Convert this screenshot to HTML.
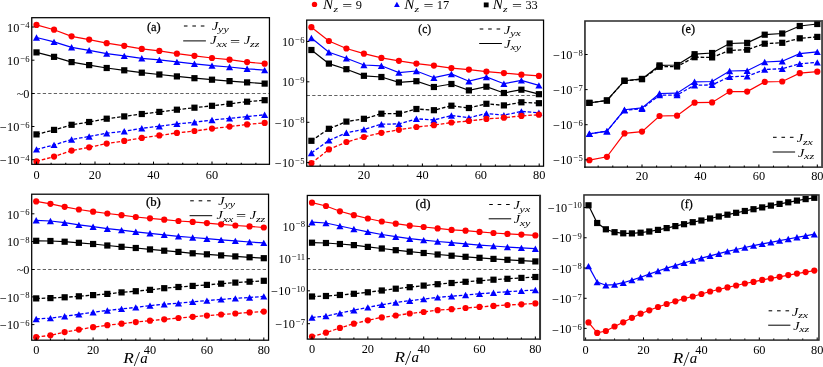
<!DOCTYPE html>
<html><head><meta charset="utf-8"><title>fig</title>
<style>html,body{margin:0;padding:0;background:#fff;width:823px;height:367px;overflow:hidden}svg{display:block}</style>
</head><body>
<svg width="823" height="367" viewBox="0 0 823 367" style="will-change:transform">
<style>
text{font-family:"Liberation Serif",serif;fill:#000}
.tk{font-size:13.0px}
.ex{font-size:9.1px}
.lg{font-size:13.5px;font-style:italic}
.sb{font-size:9.6px;font-style:italic}
.pl{font-size:12px}
.nz{font-size:11.3px;font-style:italic}
.nzs{font-size:8px;font-style:italic}
.nr{font-style:normal}
.ra{font-size:15px;font-style:italic}
</style>
<rect x="0" y="0" width="823" height="367" fill="#fff"/>
<line x1="31.75" y1="93.50" x2="269.45" y2="93.50" stroke="#000" stroke-width="0.62" stroke-dasharray="3.3 2.2"/>
<polyline points="36.50,52.40 54.05,56.85 71.60,62.10 89.15,65.10 106.70,68.00 124.25,70.30 141.80,72.70 159.35,74.50 176.90,76.40 194.45,78.20 212.00,79.70 229.55,81.10 247.10,82.40 264.65,83.60" fill="none" stroke="#000000" stroke-width="1.2"/>
<rect x="33.40" y="49.30" width="6.20" height="6.20" fill="#000000"/>
<rect x="50.95" y="53.75" width="6.20" height="6.20" fill="#000000"/>
<rect x="68.50" y="59.00" width="6.20" height="6.20" fill="#000000"/>
<rect x="86.05" y="62.00" width="6.20" height="6.20" fill="#000000"/>
<rect x="103.60" y="64.90" width="6.20" height="6.20" fill="#000000"/>
<rect x="121.15" y="67.20" width="6.20" height="6.20" fill="#000000"/>
<rect x="138.70" y="69.60" width="6.20" height="6.20" fill="#000000"/>
<rect x="156.25" y="71.40" width="6.20" height="6.20" fill="#000000"/>
<rect x="173.80" y="73.30" width="6.20" height="6.20" fill="#000000"/>
<rect x="191.35" y="75.10" width="6.20" height="6.20" fill="#000000"/>
<rect x="208.90" y="76.60" width="6.20" height="6.20" fill="#000000"/>
<rect x="226.45" y="78.00" width="6.20" height="6.20" fill="#000000"/>
<rect x="244.00" y="79.30" width="6.20" height="6.20" fill="#000000"/>
<rect x="261.55" y="80.50" width="6.20" height="6.20" fill="#000000"/>
<polyline points="36.50,37.50 54.05,41.90 71.60,47.30 89.15,50.30 106.70,53.60 124.25,55.90 141.80,58.30 159.35,59.90 176.90,61.90 194.45,63.80 212.00,65.60 229.55,67.00 247.10,68.80 264.65,70.10" fill="none" stroke="#0000ff" stroke-width="1.2"/>
<path d="M32.95 40.70L40.05 40.70L36.50 34.30Z" fill="#0000ff"/>
<path d="M50.50 45.10L57.60 45.10L54.05 38.70Z" fill="#0000ff"/>
<path d="M68.05 50.50L75.15 50.50L71.60 44.10Z" fill="#0000ff"/>
<path d="M85.60 53.50L92.70 53.50L89.15 47.10Z" fill="#0000ff"/>
<path d="M103.15 56.80L110.25 56.80L106.70 50.40Z" fill="#0000ff"/>
<path d="M120.70 59.10L127.80 59.10L124.25 52.70Z" fill="#0000ff"/>
<path d="M138.25 61.50L145.35 61.50L141.80 55.10Z" fill="#0000ff"/>
<path d="M155.80 63.10L162.90 63.10L159.35 56.70Z" fill="#0000ff"/>
<path d="M173.35 65.10L180.45 65.10L176.90 58.70Z" fill="#0000ff"/>
<path d="M190.90 67.00L198.00 67.00L194.45 60.60Z" fill="#0000ff"/>
<path d="M208.45 68.80L215.55 68.80L212.00 62.40Z" fill="#0000ff"/>
<path d="M226.00 70.20L233.10 70.20L229.55 63.80Z" fill="#0000ff"/>
<path d="M243.55 72.00L250.65 72.00L247.10 65.60Z" fill="#0000ff"/>
<path d="M261.10 73.30L268.20 73.30L264.65 66.90Z" fill="#0000ff"/>
<polyline points="36.50,24.90 54.05,29.70 71.60,36.30 89.15,39.60 106.70,43.20 124.25,45.80 141.80,48.90 159.35,50.90 176.90,53.70 194.45,55.80 212.00,58.00 229.55,59.70 247.10,62.10 264.65,63.70" fill="none" stroke="#ff0000" stroke-width="1.2"/>
<circle cx="36.50" cy="24.90" r="3.10" fill="#ff0000"/>
<circle cx="54.05" cy="29.70" r="3.10" fill="#ff0000"/>
<circle cx="71.60" cy="36.30" r="3.10" fill="#ff0000"/>
<circle cx="89.15" cy="39.60" r="3.10" fill="#ff0000"/>
<circle cx="106.70" cy="43.20" r="3.10" fill="#ff0000"/>
<circle cx="124.25" cy="45.80" r="3.10" fill="#ff0000"/>
<circle cx="141.80" cy="48.90" r="3.10" fill="#ff0000"/>
<circle cx="159.35" cy="50.90" r="3.10" fill="#ff0000"/>
<circle cx="176.90" cy="53.70" r="3.10" fill="#ff0000"/>
<circle cx="194.45" cy="55.80" r="3.10" fill="#ff0000"/>
<circle cx="212.00" cy="58.00" r="3.10" fill="#ff0000"/>
<circle cx="229.55" cy="59.70" r="3.10" fill="#ff0000"/>
<circle cx="247.10" cy="62.10" r="3.10" fill="#ff0000"/>
<circle cx="264.65" cy="63.70" r="3.10" fill="#ff0000"/>
<polyline points="36.50,134.40 54.05,129.90 71.60,124.80 89.15,122.00 106.70,118.70 124.25,116.40 141.80,114.00 159.35,111.90 176.90,109.70 194.45,107.70 212.00,105.80 229.55,103.80 247.10,101.70 264.65,100.20" fill="none" stroke="#000000" stroke-width="1.3" stroke-dasharray="3.6 1.9"/>
<rect x="33.40" y="131.30" width="6.20" height="6.20" fill="#000000"/>
<rect x="50.95" y="126.80" width="6.20" height="6.20" fill="#000000"/>
<rect x="68.50" y="121.70" width="6.20" height="6.20" fill="#000000"/>
<rect x="86.05" y="118.90" width="6.20" height="6.20" fill="#000000"/>
<rect x="103.60" y="115.60" width="6.20" height="6.20" fill="#000000"/>
<rect x="121.15" y="113.30" width="6.20" height="6.20" fill="#000000"/>
<rect x="138.70" y="110.90" width="6.20" height="6.20" fill="#000000"/>
<rect x="156.25" y="108.80" width="6.20" height="6.20" fill="#000000"/>
<rect x="173.80" y="106.60" width="6.20" height="6.20" fill="#000000"/>
<rect x="191.35" y="104.60" width="6.20" height="6.20" fill="#000000"/>
<rect x="208.90" y="102.70" width="6.20" height="6.20" fill="#000000"/>
<rect x="226.45" y="100.70" width="6.20" height="6.20" fill="#000000"/>
<rect x="244.00" y="98.60" width="6.20" height="6.20" fill="#000000"/>
<rect x="261.55" y="97.10" width="6.20" height="6.20" fill="#000000"/>
<polyline points="36.50,149.40 54.05,144.90 71.60,139.50 89.15,136.50 106.70,133.20 124.25,131.30 141.80,128.30 159.35,126.20 176.90,123.80 194.45,122.30 212.00,120.00 229.55,118.40 247.10,116.60 264.65,114.80" fill="none" stroke="#0000ff" stroke-width="1.3" stroke-dasharray="3.6 1.9"/>
<path d="M32.95 152.60L40.05 152.60L36.50 146.20Z" fill="#0000ff"/>
<path d="M50.50 148.10L57.60 148.10L54.05 141.70Z" fill="#0000ff"/>
<path d="M68.05 142.70L75.15 142.70L71.60 136.30Z" fill="#0000ff"/>
<path d="M85.60 139.70L92.70 139.70L89.15 133.30Z" fill="#0000ff"/>
<path d="M103.15 136.40L110.25 136.40L106.70 130.00Z" fill="#0000ff"/>
<path d="M120.70 134.50L127.80 134.50L124.25 128.10Z" fill="#0000ff"/>
<path d="M138.25 131.50L145.35 131.50L141.80 125.10Z" fill="#0000ff"/>
<path d="M155.80 129.40L162.90 129.40L159.35 123.00Z" fill="#0000ff"/>
<path d="M173.35 127.00L180.45 127.00L176.90 120.60Z" fill="#0000ff"/>
<path d="M190.90 125.50L198.00 125.50L194.45 119.10Z" fill="#0000ff"/>
<path d="M208.45 123.20L215.55 123.20L212.00 116.80Z" fill="#0000ff"/>
<path d="M226.00 121.60L233.10 121.60L229.55 115.20Z" fill="#0000ff"/>
<path d="M243.55 119.80L250.65 119.80L247.10 113.40Z" fill="#0000ff"/>
<path d="M261.10 118.00L268.20 118.00L264.65 111.60Z" fill="#0000ff"/>
<polyline points="36.50,161.40 54.05,156.60 71.60,150.60 89.15,147.30 106.70,143.60 124.25,140.90 141.80,137.90 159.35,135.40 176.90,132.90 194.45,131.00 212.00,128.60 229.55,126.60 247.10,124.40 264.65,122.90" fill="none" stroke="#ff0000" stroke-width="1.3" stroke-dasharray="3.6 1.9"/>
<circle cx="36.50" cy="161.40" r="3.10" fill="#ff0000"/>
<circle cx="54.05" cy="156.60" r="3.10" fill="#ff0000"/>
<circle cx="71.60" cy="150.60" r="3.10" fill="#ff0000"/>
<circle cx="89.15" cy="147.30" r="3.10" fill="#ff0000"/>
<circle cx="106.70" cy="143.60" r="3.10" fill="#ff0000"/>
<circle cx="124.25" cy="140.90" r="3.10" fill="#ff0000"/>
<circle cx="141.80" cy="137.90" r="3.10" fill="#ff0000"/>
<circle cx="159.35" cy="135.40" r="3.10" fill="#ff0000"/>
<circle cx="176.90" cy="132.90" r="3.10" fill="#ff0000"/>
<circle cx="194.45" cy="131.00" r="3.10" fill="#ff0000"/>
<circle cx="212.00" cy="128.60" r="3.10" fill="#ff0000"/>
<circle cx="229.55" cy="126.60" r="3.10" fill="#ff0000"/>
<circle cx="247.10" cy="124.40" r="3.10" fill="#ff0000"/>
<circle cx="264.65" cy="122.90" r="3.10" fill="#ff0000"/>
<line x1="36.50" y1="164.30" x2="36.50" y2="161.60" stroke="#000" stroke-width="1.05"/>
<line x1="51.12" y1="164.30" x2="51.12" y2="162.70" stroke="#000" stroke-width="1.05"/>
<line x1="65.75" y1="164.30" x2="65.75" y2="162.70" stroke="#000" stroke-width="1.05"/>
<line x1="80.38" y1="164.30" x2="80.38" y2="162.70" stroke="#000" stroke-width="1.05"/>
<line x1="95.00" y1="164.30" x2="95.00" y2="161.60" stroke="#000" stroke-width="1.05"/>
<line x1="109.62" y1="164.30" x2="109.62" y2="162.70" stroke="#000" stroke-width="1.05"/>
<line x1="124.25" y1="164.30" x2="124.25" y2="162.70" stroke="#000" stroke-width="1.05"/>
<line x1="138.88" y1="164.30" x2="138.88" y2="162.70" stroke="#000" stroke-width="1.05"/>
<line x1="153.50" y1="164.30" x2="153.50" y2="161.60" stroke="#000" stroke-width="1.05"/>
<line x1="168.12" y1="164.30" x2="168.12" y2="162.70" stroke="#000" stroke-width="1.05"/>
<line x1="182.75" y1="164.30" x2="182.75" y2="162.70" stroke="#000" stroke-width="1.05"/>
<line x1="197.38" y1="164.30" x2="197.38" y2="162.70" stroke="#000" stroke-width="1.05"/>
<line x1="212.00" y1="164.30" x2="212.00" y2="161.60" stroke="#000" stroke-width="1.05"/>
<line x1="226.62" y1="164.30" x2="226.62" y2="162.70" stroke="#000" stroke-width="1.05"/>
<line x1="241.25" y1="164.30" x2="241.25" y2="162.70" stroke="#000" stroke-width="1.05"/>
<line x1="255.88" y1="164.30" x2="255.88" y2="162.70" stroke="#000" stroke-width="1.05"/>
<text transform="translate(36.50 178.65) scale(0.95 1)" text-anchor="middle" class="tk">0</text>
<text transform="translate(95.00 178.65) scale(0.95 1)" text-anchor="middle" class="tk">20</text>
<text transform="translate(153.50 178.65) scale(0.95 1)" text-anchor="middle" class="tk">40</text>
<text transform="translate(212.00 178.65) scale(0.95 1)" text-anchor="middle" class="tk">60</text>
<rect x="31.75" y="17.70" width="237.70" height="146.60" fill="none" stroke="#000" stroke-width="1.25"/>
<text transform="translate(29.55 31.60) scale(0.95 1)" text-anchor="end" class="tk"><tspan dx="0" dy="0">10</tspan><tspan class="ex" dy="-3.2" dx="0.6">−<tspan dx="0.5">4</tspan></tspan></text>
<line x1="31.75" y1="27.00" x2="34.45" y2="27.00" stroke="#000" stroke-width="1.0"/>
<text transform="translate(29.55 64.80) scale(0.95 1)" text-anchor="end" class="tk"><tspan dx="0" dy="0">10</tspan><tspan class="ex" dy="-3.2" dx="0.6">−<tspan dx="0.5">6</tspan></tspan></text>
<line x1="31.75" y1="60.20" x2="34.45" y2="60.20" stroke="#000" stroke-width="1.0"/>
<text transform="translate(29.55 131.10) scale(0.95 1)" text-anchor="end" class="tk"><tspan dy="1.1">−</tspan><tspan dx="0.55" dy="-1.1">10</tspan><tspan class="ex" dy="-3.2" dx="0.6">−<tspan dx="0.5">6</tspan></tspan></text>
<line x1="31.75" y1="126.50" x2="34.45" y2="126.50" stroke="#000" stroke-width="1.0"/>
<text transform="translate(29.55 164.30) scale(0.95 1)" text-anchor="end" class="tk"><tspan dy="1.1">−</tspan><tspan dx="0.55" dy="-1.1">10</tspan><tspan class="ex" dy="-3.2" dx="0.6">−<tspan dx="0.5">4</tspan></tspan></text>
<line x1="31.75" y1="159.70" x2="34.45" y2="159.70" stroke="#000" stroke-width="1.0"/>
<text transform="translate(29.55 97.75) scale(0.95 1)" text-anchor="end" class="tk">~0</text>
<line x1="31.75" y1="93.5" x2="34.45" y2="93.5" stroke="#000" stroke-width="1"/>
<text transform="translate(146.90 31.00) scale(1.04 1)" style="font-size:12px;stroke:#000;stroke-width:0.25px;">(a)</text>
<line x1="183.90" y1="26.00" x2="187.50" y2="26.00" stroke="#000" stroke-width="1.05"/>
<line x1="192.35" y1="26.00" x2="195.95" y2="26.00" stroke="#000" stroke-width="1.05"/>
<line x1="200.80" y1="26.00" x2="204.40" y2="26.00" stroke="#000" stroke-width="1.05"/>
<line x1="183.20" y1="40.90" x2="205.90" y2="40.90" stroke="#000" stroke-width="1.0"/>
<text transform="translate(212.00 29.80) scale(1.05 1)" style="font-size:13.5px;font-style:italic;">J</text>
<text transform="translate(218.10 32.10) scale(1.3 1)" style="font-size:9.2px;font-style:italic;">yy</text>
<text transform="translate(210.30 44.40) scale(1.05 1)" style="font-size:13.5px;font-style:italic;">J</text>
<text transform="translate(216.40 46.70) scale(1.3 1)" style="font-size:9.2px;font-style:italic;">xx</text>
<text transform="translate(229.90 45.50) scale(1.45 1)" style="font-size:12.4px;">=</text>
<text transform="translate(243.90 44.40) scale(1.05 1)" style="font-size:13.5px;font-style:italic;">J</text>
<text transform="translate(250.00 46.70) scale(1.3 1)" style="font-size:9.2px;font-style:italic;">zz</text>
<line x1="31.70" y1="269.50" x2="268.55" y2="269.50" stroke="#000" stroke-width="0.62" stroke-dasharray="3.3 2.2"/>
<polyline points="36.20,240.80 50.43,241.00 64.65,241.70 78.88,242.80 93.10,244.00 107.33,245.50 121.55,246.80 135.78,248.00 150.00,249.40 164.23,250.70 178.45,251.90 192.68,253.30 206.90,254.30 221.12,255.40 235.35,256.40 249.57,257.30 263.80,258.20" fill="none" stroke="#000000" stroke-width="1.2"/>
<rect x="33.10" y="237.70" width="6.20" height="6.20" fill="#000000"/>
<rect x="47.33" y="237.90" width="6.20" height="6.20" fill="#000000"/>
<rect x="61.55" y="238.60" width="6.20" height="6.20" fill="#000000"/>
<rect x="75.78" y="239.70" width="6.20" height="6.20" fill="#000000"/>
<rect x="90.00" y="240.90" width="6.20" height="6.20" fill="#000000"/>
<rect x="104.23" y="242.40" width="6.20" height="6.20" fill="#000000"/>
<rect x="118.45" y="243.70" width="6.20" height="6.20" fill="#000000"/>
<rect x="132.68" y="244.90" width="6.20" height="6.20" fill="#000000"/>
<rect x="146.90" y="246.30" width="6.20" height="6.20" fill="#000000"/>
<rect x="161.13" y="247.60" width="6.20" height="6.20" fill="#000000"/>
<rect x="175.35" y="248.80" width="6.20" height="6.20" fill="#000000"/>
<rect x="189.58" y="250.20" width="6.20" height="6.20" fill="#000000"/>
<rect x="203.80" y="251.20" width="6.20" height="6.20" fill="#000000"/>
<rect x="218.03" y="252.30" width="6.20" height="6.20" fill="#000000"/>
<rect x="232.25" y="253.30" width="6.20" height="6.20" fill="#000000"/>
<rect x="246.47" y="254.20" width="6.20" height="6.20" fill="#000000"/>
<rect x="260.70" y="255.10" width="6.20" height="6.20" fill="#000000"/>
<polyline points="36.20,220.30 50.43,221.00 64.65,222.70 78.88,224.90 93.10,226.70 107.33,228.70 121.55,230.10 135.78,231.80 150.00,233.30 164.23,234.80 178.45,236.30 192.68,237.50 206.90,238.70 221.12,239.90 235.35,240.90 249.57,242.00 263.80,242.90" fill="none" stroke="#0000ff" stroke-width="1.2"/>
<path d="M32.65 223.50L39.75 223.50L36.20 217.10Z" fill="#0000ff"/>
<path d="M46.88 224.20L53.98 224.20L50.43 217.80Z" fill="#0000ff"/>
<path d="M61.10 225.90L68.20 225.90L64.65 219.50Z" fill="#0000ff"/>
<path d="M75.33 228.10L82.42 228.10L78.88 221.70Z" fill="#0000ff"/>
<path d="M89.55 229.90L96.65 229.90L93.10 223.50Z" fill="#0000ff"/>
<path d="M103.78 231.90L110.88 231.90L107.33 225.50Z" fill="#0000ff"/>
<path d="M118.00 233.30L125.10 233.30L121.55 226.90Z" fill="#0000ff"/>
<path d="M132.22 235.00L139.33 235.00L135.78 228.60Z" fill="#0000ff"/>
<path d="M146.45 236.50L153.55 236.50L150.00 230.10Z" fill="#0000ff"/>
<path d="M160.68 238.00L167.78 238.00L164.23 231.60Z" fill="#0000ff"/>
<path d="M174.90 239.50L182.00 239.50L178.45 233.10Z" fill="#0000ff"/>
<path d="M189.12 240.70L196.23 240.70L192.68 234.30Z" fill="#0000ff"/>
<path d="M203.35 241.90L210.45 241.90L206.90 235.50Z" fill="#0000ff"/>
<path d="M217.57 243.10L224.68 243.10L221.12 236.70Z" fill="#0000ff"/>
<path d="M231.80 244.10L238.90 244.10L235.35 237.70Z" fill="#0000ff"/>
<path d="M246.02 245.20L253.12 245.20L249.57 238.80Z" fill="#0000ff"/>
<path d="M260.25 246.10L267.35 246.10L263.80 239.70Z" fill="#0000ff"/>
<polyline points="36.20,201.40 50.43,203.80 64.65,206.80 78.88,209.50 93.10,211.70 107.33,213.50 121.55,215.20 135.78,217.00 150.00,218.30 164.23,219.70 178.45,221.00 192.68,221.90 206.90,223.10 221.12,224.30 235.35,225.50 249.57,226.40 263.80,227.50" fill="none" stroke="#ff0000" stroke-width="1.2"/>
<circle cx="36.20" cy="201.40" r="3.10" fill="#ff0000"/>
<circle cx="50.43" cy="203.80" r="3.10" fill="#ff0000"/>
<circle cx="64.65" cy="206.80" r="3.10" fill="#ff0000"/>
<circle cx="78.88" cy="209.50" r="3.10" fill="#ff0000"/>
<circle cx="93.10" cy="211.70" r="3.10" fill="#ff0000"/>
<circle cx="107.33" cy="213.50" r="3.10" fill="#ff0000"/>
<circle cx="121.55" cy="215.20" r="3.10" fill="#ff0000"/>
<circle cx="135.78" cy="217.00" r="3.10" fill="#ff0000"/>
<circle cx="150.00" cy="218.30" r="3.10" fill="#ff0000"/>
<circle cx="164.23" cy="219.70" r="3.10" fill="#ff0000"/>
<circle cx="178.45" cy="221.00" r="3.10" fill="#ff0000"/>
<circle cx="192.68" cy="221.90" r="3.10" fill="#ff0000"/>
<circle cx="206.90" cy="223.10" r="3.10" fill="#ff0000"/>
<circle cx="221.12" cy="224.30" r="3.10" fill="#ff0000"/>
<circle cx="235.35" cy="225.50" r="3.10" fill="#ff0000"/>
<circle cx="249.57" cy="226.40" r="3.10" fill="#ff0000"/>
<circle cx="263.80" cy="227.50" r="3.10" fill="#ff0000"/>
<polyline points="36.20,298.40 50.43,298.10 64.65,297.30 78.88,296.30 93.10,295.10 107.33,293.90 121.55,292.40 135.78,291.20 150.00,289.85 164.23,288.20 178.45,287.00 192.68,285.90 206.90,284.90 221.12,283.70 235.35,282.60 249.57,281.70 263.80,280.80" fill="none" stroke="#000000" stroke-width="1.3" stroke-dasharray="3.6 1.9"/>
<rect x="33.10" y="295.30" width="6.20" height="6.20" fill="#000000"/>
<rect x="47.33" y="295.00" width="6.20" height="6.20" fill="#000000"/>
<rect x="61.55" y="294.20" width="6.20" height="6.20" fill="#000000"/>
<rect x="75.78" y="293.20" width="6.20" height="6.20" fill="#000000"/>
<rect x="90.00" y="292.00" width="6.20" height="6.20" fill="#000000"/>
<rect x="104.23" y="290.80" width="6.20" height="6.20" fill="#000000"/>
<rect x="118.45" y="289.30" width="6.20" height="6.20" fill="#000000"/>
<rect x="132.68" y="288.10" width="6.20" height="6.20" fill="#000000"/>
<rect x="146.90" y="286.75" width="6.20" height="6.20" fill="#000000"/>
<rect x="161.13" y="285.10" width="6.20" height="6.20" fill="#000000"/>
<rect x="175.35" y="283.90" width="6.20" height="6.20" fill="#000000"/>
<rect x="189.58" y="282.80" width="6.20" height="6.20" fill="#000000"/>
<rect x="203.80" y="281.80" width="6.20" height="6.20" fill="#000000"/>
<rect x="218.03" y="280.60" width="6.20" height="6.20" fill="#000000"/>
<rect x="232.25" y="279.50" width="6.20" height="6.20" fill="#000000"/>
<rect x="246.47" y="278.60" width="6.20" height="6.20" fill="#000000"/>
<rect x="260.70" y="277.70" width="6.20" height="6.20" fill="#000000"/>
<polyline points="36.20,319.00 50.43,318.10 64.65,316.30 78.88,314.40 93.10,312.30 107.33,310.50 121.55,308.90 135.78,307.40 150.00,305.65 164.23,304.20 178.45,303.20 192.68,301.80 206.90,300.60 221.12,299.40 235.35,298.40 249.57,297.50 263.80,296.40" fill="none" stroke="#0000ff" stroke-width="1.3" stroke-dasharray="3.6 1.9"/>
<path d="M32.65 322.20L39.75 322.20L36.20 315.80Z" fill="#0000ff"/>
<path d="M46.88 321.30L53.98 321.30L50.43 314.90Z" fill="#0000ff"/>
<path d="M61.10 319.50L68.20 319.50L64.65 313.10Z" fill="#0000ff"/>
<path d="M75.33 317.60L82.42 317.60L78.88 311.20Z" fill="#0000ff"/>
<path d="M89.55 315.50L96.65 315.50L93.10 309.10Z" fill="#0000ff"/>
<path d="M103.78 313.70L110.88 313.70L107.33 307.30Z" fill="#0000ff"/>
<path d="M118.00 312.10L125.10 312.10L121.55 305.70Z" fill="#0000ff"/>
<path d="M132.22 310.60L139.33 310.60L135.78 304.20Z" fill="#0000ff"/>
<path d="M146.45 308.85L153.55 308.85L150.00 302.45Z" fill="#0000ff"/>
<path d="M160.68 307.40L167.78 307.40L164.23 301.00Z" fill="#0000ff"/>
<path d="M174.90 306.40L182.00 306.40L178.45 300.00Z" fill="#0000ff"/>
<path d="M189.12 305.00L196.23 305.00L192.68 298.60Z" fill="#0000ff"/>
<path d="M203.35 303.80L210.45 303.80L206.90 297.40Z" fill="#0000ff"/>
<path d="M217.57 302.60L224.68 302.60L221.12 296.20Z" fill="#0000ff"/>
<path d="M231.80 301.60L238.90 301.60L235.35 295.20Z" fill="#0000ff"/>
<path d="M246.02 300.70L253.12 300.70L249.57 294.30Z" fill="#0000ff"/>
<path d="M260.25 299.60L267.35 299.60L263.80 293.20Z" fill="#0000ff"/>
<polyline points="36.20,337.20 50.43,335.30 64.65,332.10 78.88,329.60 93.10,327.20 107.33,325.20 121.55,323.70 135.78,322.10 150.00,320.65 164.23,319.30 178.45,318.00 192.68,316.80 206.90,315.60 221.12,314.50 235.35,313.50 249.57,312.40 263.80,311.60" fill="none" stroke="#ff0000" stroke-width="1.3" stroke-dasharray="3.6 1.9"/>
<circle cx="36.20" cy="337.20" r="3.10" fill="#ff0000"/>
<circle cx="50.43" cy="335.30" r="3.10" fill="#ff0000"/>
<circle cx="64.65" cy="332.10" r="3.10" fill="#ff0000"/>
<circle cx="78.88" cy="329.60" r="3.10" fill="#ff0000"/>
<circle cx="93.10" cy="327.20" r="3.10" fill="#ff0000"/>
<circle cx="107.33" cy="325.20" r="3.10" fill="#ff0000"/>
<circle cx="121.55" cy="323.70" r="3.10" fill="#ff0000"/>
<circle cx="135.78" cy="322.10" r="3.10" fill="#ff0000"/>
<circle cx="150.00" cy="320.65" r="3.10" fill="#ff0000"/>
<circle cx="164.23" cy="319.30" r="3.10" fill="#ff0000"/>
<circle cx="178.45" cy="318.00" r="3.10" fill="#ff0000"/>
<circle cx="192.68" cy="316.80" r="3.10" fill="#ff0000"/>
<circle cx="206.90" cy="315.60" r="3.10" fill="#ff0000"/>
<circle cx="221.12" cy="314.50" r="3.10" fill="#ff0000"/>
<circle cx="235.35" cy="313.50" r="3.10" fill="#ff0000"/>
<circle cx="249.57" cy="312.40" r="3.10" fill="#ff0000"/>
<circle cx="263.80" cy="311.60" r="3.10" fill="#ff0000"/>
<line x1="36.20" y1="340.20" x2="36.20" y2="337.50" stroke="#000" stroke-width="1.05"/>
<line x1="50.43" y1="340.20" x2="50.43" y2="338.60" stroke="#000" stroke-width="1.05"/>
<line x1="64.65" y1="340.20" x2="64.65" y2="338.60" stroke="#000" stroke-width="1.05"/>
<line x1="78.88" y1="340.20" x2="78.88" y2="338.60" stroke="#000" stroke-width="1.05"/>
<line x1="93.10" y1="340.20" x2="93.10" y2="337.50" stroke="#000" stroke-width="1.05"/>
<line x1="107.33" y1="340.20" x2="107.33" y2="338.60" stroke="#000" stroke-width="1.05"/>
<line x1="121.55" y1="340.20" x2="121.55" y2="338.60" stroke="#000" stroke-width="1.05"/>
<line x1="135.78" y1="340.20" x2="135.78" y2="338.60" stroke="#000" stroke-width="1.05"/>
<line x1="150.00" y1="340.20" x2="150.00" y2="337.50" stroke="#000" stroke-width="1.05"/>
<line x1="164.23" y1="340.20" x2="164.23" y2="338.60" stroke="#000" stroke-width="1.05"/>
<line x1="178.45" y1="340.20" x2="178.45" y2="338.60" stroke="#000" stroke-width="1.05"/>
<line x1="192.68" y1="340.20" x2="192.68" y2="338.60" stroke="#000" stroke-width="1.05"/>
<line x1="206.90" y1="340.20" x2="206.90" y2="337.50" stroke="#000" stroke-width="1.05"/>
<line x1="221.12" y1="340.20" x2="221.12" y2="338.60" stroke="#000" stroke-width="1.05"/>
<line x1="235.35" y1="340.20" x2="235.35" y2="338.60" stroke="#000" stroke-width="1.05"/>
<line x1="249.58" y1="340.20" x2="249.58" y2="338.60" stroke="#000" stroke-width="1.05"/>
<line x1="263.80" y1="340.20" x2="263.80" y2="337.50" stroke="#000" stroke-width="1.05"/>
<text transform="translate(36.20 354.15) scale(0.95 1)" text-anchor="middle" class="tk">0</text>
<text transform="translate(93.10 354.15) scale(0.95 1)" text-anchor="middle" class="tk">20</text>
<text transform="translate(150.00 354.15) scale(0.95 1)" text-anchor="middle" class="tk">40</text>
<text transform="translate(206.90 354.15) scale(0.95 1)" text-anchor="middle" class="tk">60</text>
<text transform="translate(263.80 354.15) scale(0.95 1)" text-anchor="middle" class="tk">80</text>
<rect x="31.70" y="194.20" width="236.85" height="146.00" fill="none" stroke="#000" stroke-width="1.25"/>
<text transform="translate(29.50 218.50) scale(0.95 1)" text-anchor="end" class="tk"><tspan dx="0" dy="0">10</tspan><tspan class="ex" dy="-3.2" dx="0.6">−<tspan dx="0.5">6</tspan></tspan></text>
<line x1="31.70" y1="213.80" x2="34.40" y2="213.80" stroke="#000" stroke-width="1.0"/>
<text transform="translate(29.50 246.20) scale(0.95 1)" text-anchor="end" class="tk"><tspan dx="0" dy="0">10</tspan><tspan class="ex" dy="-3.2" dx="0.6">−<tspan dx="0.5">8</tspan></tspan></text>
<line x1="31.70" y1="241.50" x2="34.40" y2="241.50" stroke="#000" stroke-width="1.0"/>
<text transform="translate(29.50 301.60) scale(0.95 1)" text-anchor="end" class="tk"><tspan dy="1.1">−</tspan><tspan dx="0.55" dy="-1.1">10</tspan><tspan class="ex" dy="-3.2" dx="0.6">−<tspan dx="0.5">8</tspan></tspan></text>
<line x1="31.70" y1="296.90" x2="34.40" y2="296.90" stroke="#000" stroke-width="1.0"/>
<text transform="translate(29.50 329.30) scale(0.95 1)" text-anchor="end" class="tk"><tspan dy="1.1">−</tspan><tspan dx="0.55" dy="-1.1">10</tspan><tspan class="ex" dy="-3.2" dx="0.6">−<tspan dx="0.5">6</tspan></tspan></text>
<line x1="31.70" y1="324.60" x2="34.40" y2="324.60" stroke="#000" stroke-width="1.0"/>
<text transform="translate(29.55 273.75) scale(0.95 1)" text-anchor="end" class="tk">~0</text>
<line x1="31.7" y1="269.5" x2="34.4" y2="269.5" stroke="#000" stroke-width="1"/>
<text transform="translate(145.90 206.20) scale(1.065 1)" style="font-size:12px;stroke:#000;stroke-width:0.25px;">(b)</text>
<line x1="190.20" y1="200.80" x2="193.80" y2="200.80" stroke="#000" stroke-width="1.05"/>
<line x1="198.65" y1="200.80" x2="202.25" y2="200.80" stroke="#000" stroke-width="1.05"/>
<line x1="207.10" y1="200.80" x2="210.70" y2="200.80" stroke="#000" stroke-width="1.05"/>
<line x1="189.60" y1="215.70" x2="212.20" y2="215.70" stroke="#000" stroke-width="1.0"/>
<text transform="translate(218.30 204.60) scale(1.05 1)" style="font-size:13.5px;font-style:italic;">J</text>
<text transform="translate(224.40 206.90) scale(1.3 1)" style="font-size:9.2px;font-style:italic;">yy</text>
<text transform="translate(216.60 219.20) scale(1.05 1)" style="font-size:13.5px;font-style:italic;">J</text>
<text transform="translate(222.70 221.50) scale(1.3 1)" style="font-size:9.2px;font-style:italic;">xx</text>
<text transform="translate(235.90 220.30) scale(1.45 1)" style="font-size:12.4px;">=</text>
<text transform="translate(249.80 219.20) scale(1.05 1)" style="font-size:13.5px;font-style:italic;">J</text>
<text transform="translate(255.90 221.50) scale(1.3 1)" style="font-size:9.2px;font-style:italic;">zz</text>
<text transform="translate(123.30 363.20) scale(1.15 1)" style="font-size:15px;font-style:italic;">R</text>
<text transform="translate(134.50 366.40) scale(0.7 1)" style="font-size:22px;font-style:italic;">/</text>
<text transform="translate(140.20 363.20) scale(1.0 1)" style="font-size:15px;font-style:italic;">a</text>
<line x1="306.70" y1="95.50" x2="543.55" y2="95.50" stroke="#000" stroke-width="0.62" stroke-dasharray="3.3 2.2"/>
<polyline points="311.40,50.00 328.90,63.60 346.40,69.20 363.90,75.80 381.40,77.00 398.90,82.40 416.40,81.20 433.90,87.00 451.40,84.00 468.90,90.40 486.40,86.70 503.90,93.00 521.40,89.70 538.90,94.20" fill="none" stroke="#000000" stroke-width="1.2"/>
<rect x="308.30" y="46.90" width="6.20" height="6.20" fill="#000000"/>
<rect x="325.80" y="60.50" width="6.20" height="6.20" fill="#000000"/>
<rect x="343.30" y="66.10" width="6.20" height="6.20" fill="#000000"/>
<rect x="360.80" y="72.70" width="6.20" height="6.20" fill="#000000"/>
<rect x="378.30" y="73.90" width="6.20" height="6.20" fill="#000000"/>
<rect x="395.80" y="79.30" width="6.20" height="6.20" fill="#000000"/>
<rect x="413.30" y="78.10" width="6.20" height="6.20" fill="#000000"/>
<rect x="430.80" y="83.90" width="6.20" height="6.20" fill="#000000"/>
<rect x="448.30" y="80.90" width="6.20" height="6.20" fill="#000000"/>
<rect x="465.80" y="87.30" width="6.20" height="6.20" fill="#000000"/>
<rect x="483.30" y="83.60" width="6.20" height="6.20" fill="#000000"/>
<rect x="500.80" y="89.90" width="6.20" height="6.20" fill="#000000"/>
<rect x="518.30" y="86.60" width="6.20" height="6.20" fill="#000000"/>
<rect x="535.80" y="91.10" width="6.20" height="6.20" fill="#000000"/>
<polyline points="311.40,38.00 328.90,52.20 346.40,58.20 363.90,65.00 381.40,65.80 398.90,72.60 416.40,71.00 433.90,77.70 451.40,74.00 468.90,81.20 486.40,77.00 503.90,83.70 521.40,80.40 538.90,85.40" fill="none" stroke="#0000ff" stroke-width="1.2"/>
<path d="M307.85 41.20L314.95 41.20L311.40 34.80Z" fill="#0000ff"/>
<path d="M325.35 55.40L332.45 55.40L328.90 49.00Z" fill="#0000ff"/>
<path d="M342.85 61.40L349.95 61.40L346.40 55.00Z" fill="#0000ff"/>
<path d="M360.35 68.20L367.45 68.20L363.90 61.80Z" fill="#0000ff"/>
<path d="M377.85 69.00L384.95 69.00L381.40 62.60Z" fill="#0000ff"/>
<path d="M395.35 75.80L402.45 75.80L398.90 69.40Z" fill="#0000ff"/>
<path d="M412.85 74.20L419.95 74.20L416.40 67.80Z" fill="#0000ff"/>
<path d="M430.35 80.90L437.45 80.90L433.90 74.50Z" fill="#0000ff"/>
<path d="M447.85 77.20L454.95 77.20L451.40 70.80Z" fill="#0000ff"/>
<path d="M465.35 84.40L472.45 84.40L468.90 78.00Z" fill="#0000ff"/>
<path d="M482.85 80.20L489.95 80.20L486.40 73.80Z" fill="#0000ff"/>
<path d="M500.35 86.90L507.45 86.90L503.90 80.50Z" fill="#0000ff"/>
<path d="M517.85 83.60L524.95 83.60L521.40 77.20Z" fill="#0000ff"/>
<path d="M535.35 88.60L542.45 88.60L538.90 82.20Z" fill="#0000ff"/>
<polyline points="311.40,27.20 328.90,41.00 346.40,48.50 363.90,53.70 381.40,57.90 398.90,60.80 416.40,63.60 433.90,65.60 451.40,68.10 468.90,69.60 486.40,71.60 503.90,73.10 521.40,74.70 538.90,75.90" fill="none" stroke="#ff0000" stroke-width="1.2"/>
<circle cx="311.40" cy="27.20" r="3.10" fill="#ff0000"/>
<circle cx="328.90" cy="41.00" r="3.10" fill="#ff0000"/>
<circle cx="346.40" cy="48.50" r="3.10" fill="#ff0000"/>
<circle cx="363.90" cy="53.70" r="3.10" fill="#ff0000"/>
<circle cx="381.40" cy="57.90" r="3.10" fill="#ff0000"/>
<circle cx="398.90" cy="60.80" r="3.10" fill="#ff0000"/>
<circle cx="416.40" cy="63.60" r="3.10" fill="#ff0000"/>
<circle cx="433.90" cy="65.60" r="3.10" fill="#ff0000"/>
<circle cx="451.40" cy="68.10" r="3.10" fill="#ff0000"/>
<circle cx="468.90" cy="69.60" r="3.10" fill="#ff0000"/>
<circle cx="486.40" cy="71.60" r="3.10" fill="#ff0000"/>
<circle cx="503.90" cy="73.10" r="3.10" fill="#ff0000"/>
<circle cx="521.40" cy="74.70" r="3.10" fill="#ff0000"/>
<circle cx="538.90" cy="75.90" r="3.10" fill="#ff0000"/>
<polyline points="311.40,140.80 328.90,128.80 346.40,121.60 363.90,118.80 381.40,113.70 398.90,113.70 416.40,109.00 433.90,110.20 451.40,105.70 468.90,108.00 486.40,103.80 503.90,105.40 521.40,102.30 538.90,103.20" fill="none" stroke="#000000" stroke-width="1.3" stroke-dasharray="3.6 1.9"/>
<rect x="308.30" y="137.70" width="6.20" height="6.20" fill="#000000"/>
<rect x="325.80" y="125.70" width="6.20" height="6.20" fill="#000000"/>
<rect x="343.30" y="118.50" width="6.20" height="6.20" fill="#000000"/>
<rect x="360.80" y="115.70" width="6.20" height="6.20" fill="#000000"/>
<rect x="378.30" y="110.60" width="6.20" height="6.20" fill="#000000"/>
<rect x="395.80" y="110.60" width="6.20" height="6.20" fill="#000000"/>
<rect x="413.30" y="105.90" width="6.20" height="6.20" fill="#000000"/>
<rect x="430.80" y="107.10" width="6.20" height="6.20" fill="#000000"/>
<rect x="448.30" y="102.60" width="6.20" height="6.20" fill="#000000"/>
<rect x="465.80" y="104.90" width="6.20" height="6.20" fill="#000000"/>
<rect x="483.30" y="100.70" width="6.20" height="6.20" fill="#000000"/>
<rect x="500.80" y="102.30" width="6.20" height="6.20" fill="#000000"/>
<rect x="518.30" y="99.20" width="6.20" height="6.20" fill="#000000"/>
<rect x="535.80" y="100.10" width="6.20" height="6.20" fill="#000000"/>
<polyline points="311.40,153.00 328.90,140.40 346.40,132.80 363.90,129.40 381.40,124.20 398.90,123.90 416.40,118.80 433.90,120.00 451.40,115.50 468.90,117.70 486.40,113.50 503.90,115.20 521.40,111.40 538.90,112.80" fill="none" stroke="#0000ff" stroke-width="1.3" stroke-dasharray="3.6 1.9"/>
<path d="M307.85 156.20L314.95 156.20L311.40 149.80Z" fill="#0000ff"/>
<path d="M325.35 143.60L332.45 143.60L328.90 137.20Z" fill="#0000ff"/>
<path d="M342.85 136.00L349.95 136.00L346.40 129.60Z" fill="#0000ff"/>
<path d="M360.35 132.60L367.45 132.60L363.90 126.20Z" fill="#0000ff"/>
<path d="M377.85 127.40L384.95 127.40L381.40 121.00Z" fill="#0000ff"/>
<path d="M395.35 127.10L402.45 127.10L398.90 120.70Z" fill="#0000ff"/>
<path d="M412.85 122.00L419.95 122.00L416.40 115.60Z" fill="#0000ff"/>
<path d="M430.35 123.20L437.45 123.20L433.90 116.80Z" fill="#0000ff"/>
<path d="M447.85 118.70L454.95 118.70L451.40 112.30Z" fill="#0000ff"/>
<path d="M465.35 120.90L472.45 120.90L468.90 114.50Z" fill="#0000ff"/>
<path d="M482.85 116.70L489.95 116.70L486.40 110.30Z" fill="#0000ff"/>
<path d="M500.35 118.40L507.45 118.40L503.90 112.00Z" fill="#0000ff"/>
<path d="M517.85 114.60L524.95 114.60L521.40 108.20Z" fill="#0000ff"/>
<path d="M535.35 116.00L542.45 116.00L538.90 109.60Z" fill="#0000ff"/>
<polyline points="311.40,163.20 328.90,149.40 346.40,142.00 363.90,137.00 381.40,132.80 398.90,129.80 416.40,127.00 433.90,125.20 451.40,122.50 468.90,121.00 486.40,118.90 503.90,117.70 521.40,115.90 538.90,114.70" fill="none" stroke="#ff0000" stroke-width="1.3" stroke-dasharray="3.6 1.9"/>
<circle cx="311.40" cy="163.20" r="3.10" fill="#ff0000"/>
<circle cx="328.90" cy="149.40" r="3.10" fill="#ff0000"/>
<circle cx="346.40" cy="142.00" r="3.10" fill="#ff0000"/>
<circle cx="363.90" cy="137.00" r="3.10" fill="#ff0000"/>
<circle cx="381.40" cy="132.80" r="3.10" fill="#ff0000"/>
<circle cx="398.90" cy="129.80" r="3.10" fill="#ff0000"/>
<circle cx="416.40" cy="127.00" r="3.10" fill="#ff0000"/>
<circle cx="433.90" cy="125.20" r="3.10" fill="#ff0000"/>
<circle cx="451.40" cy="122.50" r="3.10" fill="#ff0000"/>
<circle cx="468.90" cy="121.00" r="3.10" fill="#ff0000"/>
<circle cx="486.40" cy="118.90" r="3.10" fill="#ff0000"/>
<circle cx="503.90" cy="117.70" r="3.10" fill="#ff0000"/>
<circle cx="521.40" cy="115.90" r="3.10" fill="#ff0000"/>
<circle cx="538.90" cy="114.70" r="3.10" fill="#ff0000"/>
<line x1="320.20" y1="166.20" x2="320.20" y2="164.60" stroke="#000" stroke-width="1.05"/>
<line x1="334.80" y1="166.20" x2="334.80" y2="164.60" stroke="#000" stroke-width="1.05"/>
<line x1="349.40" y1="166.20" x2="349.40" y2="164.60" stroke="#000" stroke-width="1.05"/>
<line x1="364.00" y1="166.20" x2="364.00" y2="163.50" stroke="#000" stroke-width="1.05"/>
<line x1="378.60" y1="166.20" x2="378.60" y2="164.60" stroke="#000" stroke-width="1.05"/>
<line x1="393.20" y1="166.20" x2="393.20" y2="164.60" stroke="#000" stroke-width="1.05"/>
<line x1="407.80" y1="166.20" x2="407.80" y2="164.60" stroke="#000" stroke-width="1.05"/>
<line x1="422.40" y1="166.20" x2="422.40" y2="163.50" stroke="#000" stroke-width="1.05"/>
<line x1="437.00" y1="166.20" x2="437.00" y2="164.60" stroke="#000" stroke-width="1.05"/>
<line x1="451.60" y1="166.20" x2="451.60" y2="164.60" stroke="#000" stroke-width="1.05"/>
<line x1="466.20" y1="166.20" x2="466.20" y2="164.60" stroke="#000" stroke-width="1.05"/>
<line x1="480.80" y1="166.20" x2="480.80" y2="163.50" stroke="#000" stroke-width="1.05"/>
<line x1="495.40" y1="166.20" x2="495.40" y2="164.60" stroke="#000" stroke-width="1.05"/>
<line x1="510.00" y1="166.20" x2="510.00" y2="164.60" stroke="#000" stroke-width="1.05"/>
<line x1="524.60" y1="166.20" x2="524.60" y2="164.60" stroke="#000" stroke-width="1.05"/>
<line x1="539.20" y1="166.20" x2="539.20" y2="163.50" stroke="#000" stroke-width="1.05"/>
<text transform="translate(364.00 179.35) scale(0.95 1)" text-anchor="middle" class="tk">20</text>
<text transform="translate(422.40 179.35) scale(0.95 1)" text-anchor="middle" class="tk">40</text>
<text transform="translate(480.80 179.35) scale(0.95 1)" text-anchor="middle" class="tk">60</text>
<text transform="translate(539.20 179.35) scale(0.95 1)" text-anchor="middle" class="tk">80</text>
<rect x="306.70" y="20.10" width="236.85" height="146.10" fill="none" stroke="#000" stroke-width="1.25"/>
<text transform="translate(304.50 45.70) scale(0.95 1)" text-anchor="end" class="tk"><tspan dx="0" dy="0">10</tspan><tspan class="ex" dy="-3.2" dx="0.6">−<tspan dx="0.5">6</tspan></tspan></text>
<line x1="306.70" y1="41.50" x2="309.40" y2="41.50" stroke="#000" stroke-width="1.0"/>
<text transform="translate(304.50 86.00) scale(0.95 1)" text-anchor="end" class="tk"><tspan dx="0" dy="0">10</tspan><tspan class="ex" dy="-3.2" dx="0.6">−<tspan dx="0.5">9</tspan></tspan></text>
<line x1="306.70" y1="81.80" x2="309.40" y2="81.80" stroke="#000" stroke-width="1.0"/>
<text transform="translate(304.50 126.50) scale(0.95 1)" text-anchor="end" class="tk"><tspan dy="1.1">−</tspan><tspan dx="0.55" dy="-1.1">10</tspan><tspan class="ex" dy="-3.2" dx="0.6">−<tspan dx="0.5">8</tspan></tspan></text>
<line x1="306.70" y1="122.30" x2="309.40" y2="122.30" stroke="#000" stroke-width="1.0"/>
<text transform="translate(304.50 166.80) scale(0.95 1)" text-anchor="end" class="tk"><tspan dy="1.1">−</tspan><tspan dx="0.55" dy="-1.1">10</tspan><tspan class="ex" dy="-3.2" dx="0.6">−<tspan dx="0.5">5</tspan></tspan></text>
<line x1="306.70" y1="162.60" x2="309.40" y2="162.60" stroke="#000" stroke-width="1.0"/>
<text transform="translate(418.30 33.00) scale(0.96 1)" style="font-size:12px;stroke:#000;stroke-width:0.25px;">(c)</text>
<line x1="479.70" y1="29.00" x2="483.30" y2="29.00" stroke="#000" stroke-width="1.05"/>
<line x1="488.15" y1="29.00" x2="491.75" y2="29.00" stroke="#000" stroke-width="1.05"/>
<line x1="496.60" y1="29.00" x2="500.20" y2="29.00" stroke="#000" stroke-width="1.05"/>
<line x1="479.20" y1="43.50" x2="501.90" y2="43.50" stroke="#000" stroke-width="1.0"/>
<text transform="translate(504.10 33.90) scale(1.05 1)" style="font-size:13.5px;font-style:italic;">J</text>
<text transform="translate(510.20 36.20) scale(1.3 1)" style="font-size:9.2px;font-style:italic;">yx</text>
<text transform="translate(504.30 48.10) scale(1.05 1)" style="font-size:13.5px;font-style:italic;">J</text>
<text transform="translate(510.40 50.40) scale(1.3 1)" style="font-size:9.2px;font-style:italic;">xy</text>
<line x1="307.30" y1="269.50" x2="540.10" y2="269.50" stroke="#000" stroke-width="0.62" stroke-dasharray="3.3 2.2"/>
<polyline points="312.00,242.70 325.96,243.00 339.92,244.00 353.88,245.10 367.84,246.90 381.80,248.50 395.76,250.20 409.72,251.70 423.68,253.00 437.64,254.50 451.60,255.70 465.56,256.80 479.52,257.80 493.48,258.90 507.44,259.80 521.40,260.70 535.36,261.40" fill="none" stroke="#000000" stroke-width="1.2"/>
<rect x="308.90" y="239.60" width="6.20" height="6.20" fill="#000000"/>
<rect x="322.86" y="239.90" width="6.20" height="6.20" fill="#000000"/>
<rect x="336.82" y="240.90" width="6.20" height="6.20" fill="#000000"/>
<rect x="350.78" y="242.00" width="6.20" height="6.20" fill="#000000"/>
<rect x="364.74" y="243.80" width="6.20" height="6.20" fill="#000000"/>
<rect x="378.70" y="245.40" width="6.20" height="6.20" fill="#000000"/>
<rect x="392.66" y="247.10" width="6.20" height="6.20" fill="#000000"/>
<rect x="406.62" y="248.60" width="6.20" height="6.20" fill="#000000"/>
<rect x="420.58" y="249.90" width="6.20" height="6.20" fill="#000000"/>
<rect x="434.54" y="251.40" width="6.20" height="6.20" fill="#000000"/>
<rect x="448.50" y="252.60" width="6.20" height="6.20" fill="#000000"/>
<rect x="462.46" y="253.70" width="6.20" height="6.20" fill="#000000"/>
<rect x="476.42" y="254.70" width="6.20" height="6.20" fill="#000000"/>
<rect x="490.38" y="255.80" width="6.20" height="6.20" fill="#000000"/>
<rect x="504.34" y="256.70" width="6.20" height="6.20" fill="#000000"/>
<rect x="518.30" y="257.60" width="6.20" height="6.20" fill="#000000"/>
<rect x="532.26" y="258.30" width="6.20" height="6.20" fill="#000000"/>
<polyline points="312.00,222.20 325.96,223.00 339.92,226.00 353.88,229.00 367.84,231.90 381.80,234.50 395.76,236.70 409.72,238.70 423.68,240.10 437.64,241.50 451.60,242.70 465.56,243.90 479.52,245.10 493.48,246.00 507.44,247.00 521.40,247.90 535.36,248.70" fill="none" stroke="#0000ff" stroke-width="1.2"/>
<path d="M308.45 225.40L315.55 225.40L312.00 219.00Z" fill="#0000ff"/>
<path d="M322.41 226.20L329.51 226.20L325.96 219.80Z" fill="#0000ff"/>
<path d="M336.37 229.20L343.47 229.20L339.92 222.80Z" fill="#0000ff"/>
<path d="M350.33 232.20L357.43 232.20L353.88 225.80Z" fill="#0000ff"/>
<path d="M364.29 235.10L371.39 235.10L367.84 228.70Z" fill="#0000ff"/>
<path d="M378.25 237.70L385.35 237.70L381.80 231.30Z" fill="#0000ff"/>
<path d="M392.21 239.90L399.31 239.90L395.76 233.50Z" fill="#0000ff"/>
<path d="M406.17 241.90L413.27 241.90L409.72 235.50Z" fill="#0000ff"/>
<path d="M420.13 243.30L427.23 243.30L423.68 236.90Z" fill="#0000ff"/>
<path d="M434.09 244.70L441.19 244.70L437.64 238.30Z" fill="#0000ff"/>
<path d="M448.05 245.90L455.15 245.90L451.60 239.50Z" fill="#0000ff"/>
<path d="M462.01 247.10L469.11 247.10L465.56 240.70Z" fill="#0000ff"/>
<path d="M475.97 248.30L483.07 248.30L479.52 241.90Z" fill="#0000ff"/>
<path d="M489.93 249.20L497.03 249.20L493.48 242.80Z" fill="#0000ff"/>
<path d="M503.89 250.20L510.99 250.20L507.44 243.80Z" fill="#0000ff"/>
<path d="M517.85 251.10L524.95 251.10L521.40 244.70Z" fill="#0000ff"/>
<path d="M531.81 251.90L538.91 251.90L535.36 245.50Z" fill="#0000ff"/>
<polyline points="312.00,202.70 325.96,206.00 339.92,211.30 353.88,215.20 367.84,218.50 381.80,221.50 395.76,223.70 409.72,225.70 423.68,227.00 437.64,228.40 451.60,229.90 465.56,230.70 479.52,231.90 493.48,233.00 507.44,233.90 521.40,234.60 535.36,235.40" fill="none" stroke="#ff0000" stroke-width="1.2"/>
<circle cx="312.00" cy="202.70" r="3.10" fill="#ff0000"/>
<circle cx="325.96" cy="206.00" r="3.10" fill="#ff0000"/>
<circle cx="339.92" cy="211.30" r="3.10" fill="#ff0000"/>
<circle cx="353.88" cy="215.20" r="3.10" fill="#ff0000"/>
<circle cx="367.84" cy="218.50" r="3.10" fill="#ff0000"/>
<circle cx="381.80" cy="221.50" r="3.10" fill="#ff0000"/>
<circle cx="395.76" cy="223.70" r="3.10" fill="#ff0000"/>
<circle cx="409.72" cy="225.70" r="3.10" fill="#ff0000"/>
<circle cx="423.68" cy="227.00" r="3.10" fill="#ff0000"/>
<circle cx="437.64" cy="228.40" r="3.10" fill="#ff0000"/>
<circle cx="451.60" cy="229.90" r="3.10" fill="#ff0000"/>
<circle cx="465.56" cy="230.70" r="3.10" fill="#ff0000"/>
<circle cx="479.52" cy="231.90" r="3.10" fill="#ff0000"/>
<circle cx="493.48" cy="233.00" r="3.10" fill="#ff0000"/>
<circle cx="507.44" cy="233.90" r="3.10" fill="#ff0000"/>
<circle cx="521.40" cy="234.60" r="3.10" fill="#ff0000"/>
<circle cx="535.36" cy="235.40" r="3.10" fill="#ff0000"/>
<polyline points="312.00,296.50 325.96,296.00 339.92,295.00 353.88,293.80 367.84,292.30 381.80,290.50 395.76,288.70 409.72,287.20 423.68,285.60 437.64,284.20 451.60,283.00 465.56,281.80 479.52,280.70 493.48,279.70 507.44,278.80 521.40,277.90 535.36,277.00" fill="none" stroke="#000000" stroke-width="1.3" stroke-dasharray="3.6 1.9"/>
<rect x="308.90" y="293.40" width="6.20" height="6.20" fill="#000000"/>
<rect x="322.86" y="292.90" width="6.20" height="6.20" fill="#000000"/>
<rect x="336.82" y="291.90" width="6.20" height="6.20" fill="#000000"/>
<rect x="350.78" y="290.70" width="6.20" height="6.20" fill="#000000"/>
<rect x="364.74" y="289.20" width="6.20" height="6.20" fill="#000000"/>
<rect x="378.70" y="287.40" width="6.20" height="6.20" fill="#000000"/>
<rect x="392.66" y="285.60" width="6.20" height="6.20" fill="#000000"/>
<rect x="406.62" y="284.10" width="6.20" height="6.20" fill="#000000"/>
<rect x="420.58" y="282.50" width="6.20" height="6.20" fill="#000000"/>
<rect x="434.54" y="281.10" width="6.20" height="6.20" fill="#000000"/>
<rect x="448.50" y="279.90" width="6.20" height="6.20" fill="#000000"/>
<rect x="462.46" y="278.70" width="6.20" height="6.20" fill="#000000"/>
<rect x="476.42" y="277.60" width="6.20" height="6.20" fill="#000000"/>
<rect x="490.38" y="276.60" width="6.20" height="6.20" fill="#000000"/>
<rect x="504.34" y="275.70" width="6.20" height="6.20" fill="#000000"/>
<rect x="518.30" y="274.80" width="6.20" height="6.20" fill="#000000"/>
<rect x="532.26" y="273.90" width="6.20" height="6.20" fill="#000000"/>
<polyline points="312.00,317.50 325.96,316.00 339.92,313.20 353.88,310.20 367.84,307.40 381.80,304.70 395.76,302.50 409.72,300.70 423.68,299.10 437.64,297.40 451.60,296.20 465.56,295.00 479.52,293.80 493.48,292.70 507.44,291.70 521.40,290.90 535.36,290.00" fill="none" stroke="#0000ff" stroke-width="1.3" stroke-dasharray="3.6 1.9"/>
<path d="M308.45 320.70L315.55 320.70L312.00 314.30Z" fill="#0000ff"/>
<path d="M322.41 319.20L329.51 319.20L325.96 312.80Z" fill="#0000ff"/>
<path d="M336.37 316.40L343.47 316.40L339.92 310.00Z" fill="#0000ff"/>
<path d="M350.33 313.40L357.43 313.40L353.88 307.00Z" fill="#0000ff"/>
<path d="M364.29 310.60L371.39 310.60L367.84 304.20Z" fill="#0000ff"/>
<path d="M378.25 307.90L385.35 307.90L381.80 301.50Z" fill="#0000ff"/>
<path d="M392.21 305.70L399.31 305.70L395.76 299.30Z" fill="#0000ff"/>
<path d="M406.17 303.90L413.27 303.90L409.72 297.50Z" fill="#0000ff"/>
<path d="M420.13 302.30L427.23 302.30L423.68 295.90Z" fill="#0000ff"/>
<path d="M434.09 300.60L441.19 300.60L437.64 294.20Z" fill="#0000ff"/>
<path d="M448.05 299.40L455.15 299.40L451.60 293.00Z" fill="#0000ff"/>
<path d="M462.01 298.20L469.11 298.20L465.56 291.80Z" fill="#0000ff"/>
<path d="M475.97 297.00L483.07 297.00L479.52 290.60Z" fill="#0000ff"/>
<path d="M489.93 295.90L497.03 295.90L493.48 289.50Z" fill="#0000ff"/>
<path d="M503.89 294.90L510.99 294.90L507.44 288.50Z" fill="#0000ff"/>
<path d="M517.85 294.10L524.95 294.10L521.40 287.70Z" fill="#0000ff"/>
<path d="M531.81 293.20L538.91 293.20L535.36 286.80Z" fill="#0000ff"/>
<polyline points="312.00,336.50 325.96,332.70 339.92,327.90 353.88,323.70 367.84,320.30 381.80,317.40 395.76,315.50 409.72,313.50 423.68,312.00 437.64,310.20 451.60,309.20 465.56,308.00 479.52,306.90 493.48,305.90 507.44,305.00 521.40,304.30 535.36,303.40" fill="none" stroke="#ff0000" stroke-width="1.3" stroke-dasharray="3.6 1.9"/>
<circle cx="312.00" cy="336.50" r="3.10" fill="#ff0000"/>
<circle cx="325.96" cy="332.70" r="3.10" fill="#ff0000"/>
<circle cx="339.92" cy="327.90" r="3.10" fill="#ff0000"/>
<circle cx="353.88" cy="323.70" r="3.10" fill="#ff0000"/>
<circle cx="367.84" cy="320.30" r="3.10" fill="#ff0000"/>
<circle cx="381.80" cy="317.40" r="3.10" fill="#ff0000"/>
<circle cx="395.76" cy="315.50" r="3.10" fill="#ff0000"/>
<circle cx="409.72" cy="313.50" r="3.10" fill="#ff0000"/>
<circle cx="423.68" cy="312.00" r="3.10" fill="#ff0000"/>
<circle cx="437.64" cy="310.20" r="3.10" fill="#ff0000"/>
<circle cx="451.60" cy="309.20" r="3.10" fill="#ff0000"/>
<circle cx="465.56" cy="308.00" r="3.10" fill="#ff0000"/>
<circle cx="479.52" cy="306.90" r="3.10" fill="#ff0000"/>
<circle cx="493.48" cy="305.90" r="3.10" fill="#ff0000"/>
<circle cx="507.44" cy="305.00" r="3.10" fill="#ff0000"/>
<circle cx="521.40" cy="304.30" r="3.10" fill="#ff0000"/>
<circle cx="535.36" cy="303.40" r="3.10" fill="#ff0000"/>
<line x1="312.00" y1="339.10" x2="312.00" y2="336.40" stroke="#000" stroke-width="1.05"/>
<line x1="325.96" y1="339.10" x2="325.96" y2="337.50" stroke="#000" stroke-width="1.05"/>
<line x1="339.92" y1="339.10" x2="339.92" y2="337.50" stroke="#000" stroke-width="1.05"/>
<line x1="353.88" y1="339.10" x2="353.88" y2="337.50" stroke="#000" stroke-width="1.05"/>
<line x1="367.84" y1="339.10" x2="367.84" y2="336.40" stroke="#000" stroke-width="1.05"/>
<line x1="381.80" y1="339.10" x2="381.80" y2="337.50" stroke="#000" stroke-width="1.05"/>
<line x1="395.76" y1="339.10" x2="395.76" y2="337.50" stroke="#000" stroke-width="1.05"/>
<line x1="409.72" y1="339.10" x2="409.72" y2="337.50" stroke="#000" stroke-width="1.05"/>
<line x1="423.68" y1="339.10" x2="423.68" y2="336.40" stroke="#000" stroke-width="1.05"/>
<line x1="437.64" y1="339.10" x2="437.64" y2="337.50" stroke="#000" stroke-width="1.05"/>
<line x1="451.60" y1="339.10" x2="451.60" y2="337.50" stroke="#000" stroke-width="1.05"/>
<line x1="465.56" y1="339.10" x2="465.56" y2="337.50" stroke="#000" stroke-width="1.05"/>
<line x1="479.52" y1="339.10" x2="479.52" y2="336.40" stroke="#000" stroke-width="1.05"/>
<line x1="493.48" y1="339.10" x2="493.48" y2="337.50" stroke="#000" stroke-width="1.05"/>
<line x1="507.44" y1="339.10" x2="507.44" y2="337.50" stroke="#000" stroke-width="1.05"/>
<line x1="521.40" y1="339.10" x2="521.40" y2="337.50" stroke="#000" stroke-width="1.05"/>
<line x1="535.36" y1="339.10" x2="535.36" y2="336.40" stroke="#000" stroke-width="1.05"/>
<text transform="translate(312.00 352.95) scale(0.95 1)" text-anchor="middle" class="tk">0</text>
<text transform="translate(367.84 352.95) scale(0.95 1)" text-anchor="middle" class="tk">20</text>
<text transform="translate(423.68 352.95) scale(0.95 1)" text-anchor="middle" class="tk">40</text>
<text transform="translate(479.52 352.95) scale(0.95 1)" text-anchor="middle" class="tk">60</text>
<text transform="translate(535.36 352.95) scale(0.95 1)" text-anchor="middle" class="tk">80</text>
<rect x="307.30" y="195.45" width="232.80" height="143.65" fill="none" stroke="#000" stroke-width="1.25"/>
<line x1="540.1" y1="194.85" x2="540.1" y2="339.70000000000005" stroke="#333" stroke-width="1.9"/>
<text transform="translate(305.10 230.50) scale(0.95 1)" text-anchor="end" class="tk"><tspan dx="0" dy="0">10</tspan><tspan class="ex" dy="-3.2" dx="0.6">−<tspan dx="0.5">8</tspan></tspan></text>
<line x1="307.30" y1="226.30" x2="310.00" y2="226.30" stroke="#000" stroke-width="1.0"/>
<text transform="translate(305.10 262.90) scale(0.95 1)" text-anchor="end" class="tk"><tspan dx="0" dy="0">10</tspan><tspan class="ex" dy="-3.2" dx="0.6">−<tspan dx="0.5">11</tspan></tspan></text>
<line x1="307.30" y1="258.70" x2="310.00" y2="258.70" stroke="#000" stroke-width="1.0"/>
<text transform="translate(305.10 295.00) scale(0.95 1)" text-anchor="end" class="tk"><tspan dy="1.1">−</tspan><tspan dx="0.55" dy="-1.1">10</tspan><tspan class="ex" dy="-3.2" dx="0.6">−<tspan dx="0.5">10</tspan></tspan></text>
<line x1="307.30" y1="290.80" x2="310.00" y2="290.80" stroke="#000" stroke-width="1.0"/>
<text transform="translate(305.10 327.90) scale(0.95 1)" text-anchor="end" class="tk"><tspan dy="1.1">−</tspan><tspan dx="0.55" dy="-1.1">10</tspan><tspan class="ex" dy="-3.2" dx="0.6">−<tspan dx="0.5">7</tspan></tspan></text>
<line x1="307.30" y1="323.70" x2="310.00" y2="323.70" stroke="#000" stroke-width="1.0"/>
<text transform="translate(415.50 208.40) scale(1.07 1)" style="font-size:12px;stroke:#000;stroke-width:0.25px;">(d)</text>
<line x1="489.20" y1="204.50" x2="492.80" y2="204.50" stroke="#000" stroke-width="1.05"/>
<line x1="497.65" y1="204.50" x2="501.25" y2="204.50" stroke="#000" stroke-width="1.05"/>
<line x1="506.10" y1="204.50" x2="509.70" y2="204.50" stroke="#000" stroke-width="1.05"/>
<line x1="488.70" y1="218.80" x2="511.20" y2="218.80" stroke="#000" stroke-width="1.0"/>
<text transform="translate(513.50 209.40) scale(1.05 1)" style="font-size:13.5px;font-style:italic;">J</text>
<text transform="translate(519.60 211.70) scale(1.3 1)" style="font-size:9.2px;font-style:italic;">yx</text>
<text transform="translate(513.70 223.40) scale(1.05 1)" style="font-size:13.5px;font-style:italic;">J</text>
<text transform="translate(519.80 225.70) scale(1.3 1)" style="font-size:9.2px;font-style:italic;">xy</text>
<text transform="translate(394.60 361.90) scale(1.15 1)" style="font-size:15px;font-style:italic;">R</text>
<text transform="translate(405.80 365.10) scale(0.7 1)" style="font-size:22px;font-style:italic;">/</text>
<text transform="translate(411.50 361.90) scale(1.0 1)" style="font-size:15px;font-style:italic;">a</text>
<polyline points="589.40,102.90 606.93,100.50 624.46,80.90 641.99,79.20 659.52,66.80 677.05,66.50 694.58,57.20 712.11,57.40 729.64,50.40 747.17,49.70 764.70,43.70 782.23,42.80 799.76,38.30 817.29,36.90" fill="none" stroke="#000000" stroke-width="1.3" stroke-dasharray="3.6 1.9"/>
<rect x="586.30" y="99.80" width="6.20" height="6.20" fill="#000000"/>
<rect x="603.83" y="97.40" width="6.20" height="6.20" fill="#000000"/>
<rect x="621.36" y="77.80" width="6.20" height="6.20" fill="#000000"/>
<rect x="638.89" y="76.10" width="6.20" height="6.20" fill="#000000"/>
<rect x="656.42" y="63.70" width="6.20" height="6.20" fill="#000000"/>
<rect x="673.95" y="63.40" width="6.20" height="6.20" fill="#000000"/>
<rect x="691.48" y="54.10" width="6.20" height="6.20" fill="#000000"/>
<rect x="709.01" y="54.30" width="6.20" height="6.20" fill="#000000"/>
<rect x="726.54" y="47.30" width="6.20" height="6.20" fill="#000000"/>
<rect x="744.07" y="46.60" width="6.20" height="6.20" fill="#000000"/>
<rect x="761.60" y="40.60" width="6.20" height="6.20" fill="#000000"/>
<rect x="779.13" y="39.70" width="6.20" height="6.20" fill="#000000"/>
<rect x="796.66" y="35.20" width="6.20" height="6.20" fill="#000000"/>
<rect x="814.19" y="33.80" width="6.20" height="6.20" fill="#000000"/>
<polyline points="589.40,102.90 606.93,100.50 624.46,80.70 641.99,78.90 659.52,65.40 677.05,65.00 694.58,54.20 712.11,53.00 729.64,43.50 747.17,42.90 764.70,34.70 782.23,33.50 799.76,26.00 817.29,24.00" fill="none" stroke="#000000" stroke-width="1.2"/>
<rect x="586.30" y="99.80" width="6.20" height="6.20" fill="#000000"/>
<rect x="603.83" y="97.40" width="6.20" height="6.20" fill="#000000"/>
<rect x="621.36" y="77.60" width="6.20" height="6.20" fill="#000000"/>
<rect x="638.89" y="75.80" width="6.20" height="6.20" fill="#000000"/>
<rect x="656.42" y="62.30" width="6.20" height="6.20" fill="#000000"/>
<rect x="673.95" y="61.90" width="6.20" height="6.20" fill="#000000"/>
<rect x="691.48" y="51.10" width="6.20" height="6.20" fill="#000000"/>
<rect x="709.01" y="49.90" width="6.20" height="6.20" fill="#000000"/>
<rect x="726.54" y="40.40" width="6.20" height="6.20" fill="#000000"/>
<rect x="744.07" y="39.80" width="6.20" height="6.20" fill="#000000"/>
<rect x="761.60" y="31.60" width="6.20" height="6.20" fill="#000000"/>
<rect x="779.13" y="30.40" width="6.20" height="6.20" fill="#000000"/>
<rect x="796.66" y="22.90" width="6.20" height="6.20" fill="#000000"/>
<rect x="814.19" y="20.90" width="6.20" height="6.20" fill="#000000"/>
<polyline points="589.40,133.80 606.93,131.20 624.46,110.20 641.99,108.70 659.52,95.10 677.05,95.00 694.58,85.20 712.11,84.90 729.64,76.70 747.17,76.20 764.70,69.50 782.23,68.70 799.76,63.80 817.29,62.40" fill="none" stroke="#0000ff" stroke-width="1.3" stroke-dasharray="3.6 1.9"/>
<path d="M585.85 137.00L592.95 137.00L589.40 130.60Z" fill="#0000ff"/>
<path d="M603.38 134.40L610.48 134.40L606.93 128.00Z" fill="#0000ff"/>
<path d="M620.91 113.40L628.01 113.40L624.46 107.00Z" fill="#0000ff"/>
<path d="M638.44 111.90L645.54 111.90L641.99 105.50Z" fill="#0000ff"/>
<path d="M655.97 98.30L663.07 98.30L659.52 91.90Z" fill="#0000ff"/>
<path d="M673.50 98.20L680.60 98.20L677.05 91.80Z" fill="#0000ff"/>
<path d="M691.03 88.40L698.13 88.40L694.58 82.00Z" fill="#0000ff"/>
<path d="M708.56 88.10L715.66 88.10L712.11 81.70Z" fill="#0000ff"/>
<path d="M726.09 79.90L733.19 79.90L729.64 73.50Z" fill="#0000ff"/>
<path d="M743.62 79.40L750.72 79.40L747.17 73.00Z" fill="#0000ff"/>
<path d="M761.15 72.70L768.25 72.70L764.70 66.30Z" fill="#0000ff"/>
<path d="M778.68 71.90L785.78 71.90L782.23 65.50Z" fill="#0000ff"/>
<path d="M796.21 67.00L803.31 67.00L799.76 60.60Z" fill="#0000ff"/>
<path d="M813.74 65.60L820.84 65.60L817.29 59.20Z" fill="#0000ff"/>
<polyline points="589.40,133.80 606.93,131.20 624.46,109.70 641.99,107.90 659.52,93.50 677.05,93.20 694.58,81.80 712.11,81.50 729.64,71.00 747.17,70.70 764.70,62.00 782.23,61.20 799.76,53.70 817.29,51.90" fill="none" stroke="#0000ff" stroke-width="1.2"/>
<path d="M585.85 137.00L592.95 137.00L589.40 130.60Z" fill="#0000ff"/>
<path d="M603.38 134.40L610.48 134.40L606.93 128.00Z" fill="#0000ff"/>
<path d="M620.91 112.90L628.01 112.90L624.46 106.50Z" fill="#0000ff"/>
<path d="M638.44 111.10L645.54 111.10L641.99 104.70Z" fill="#0000ff"/>
<path d="M655.97 96.70L663.07 96.70L659.52 90.30Z" fill="#0000ff"/>
<path d="M673.50 96.40L680.60 96.40L677.05 90.00Z" fill="#0000ff"/>
<path d="M691.03 85.00L698.13 85.00L694.58 78.60Z" fill="#0000ff"/>
<path d="M708.56 84.70L715.66 84.70L712.11 78.30Z" fill="#0000ff"/>
<path d="M726.09 74.20L733.19 74.20L729.64 67.80Z" fill="#0000ff"/>
<path d="M743.62 73.90L750.72 73.90L747.17 67.50Z" fill="#0000ff"/>
<path d="M761.15 65.20L768.25 65.20L764.70 58.80Z" fill="#0000ff"/>
<path d="M778.68 64.40L785.78 64.40L782.23 58.00Z" fill="#0000ff"/>
<path d="M796.21 56.90L803.31 56.90L799.76 50.50Z" fill="#0000ff"/>
<path d="M813.74 55.10L820.84 55.10L817.29 48.70Z" fill="#0000ff"/>
<polyline points="589.40,160.20 606.93,156.80 624.46,133.40 641.99,131.60 659.52,116.00 677.05,115.70 694.58,102.70 712.11,102.40 729.64,91.60 747.17,91.60 764.70,81.90 782.23,81.50 799.76,73.20 817.29,71.70" fill="none" stroke="#ff0000" stroke-width="1.2"/>
<circle cx="589.40" cy="160.20" r="3.10" fill="#ff0000"/>
<circle cx="606.93" cy="156.80" r="3.10" fill="#ff0000"/>
<circle cx="624.46" cy="133.40" r="3.10" fill="#ff0000"/>
<circle cx="641.99" cy="131.60" r="3.10" fill="#ff0000"/>
<circle cx="659.52" cy="116.00" r="3.10" fill="#ff0000"/>
<circle cx="677.05" cy="115.70" r="3.10" fill="#ff0000"/>
<circle cx="694.58" cy="102.70" r="3.10" fill="#ff0000"/>
<circle cx="712.11" cy="102.40" r="3.10" fill="#ff0000"/>
<circle cx="729.64" cy="91.60" r="3.10" fill="#ff0000"/>
<circle cx="747.17" cy="91.60" r="3.10" fill="#ff0000"/>
<circle cx="764.70" cy="81.90" r="3.10" fill="#ff0000"/>
<circle cx="782.23" cy="81.50" r="3.10" fill="#ff0000"/>
<circle cx="799.76" cy="73.20" r="3.10" fill="#ff0000"/>
<circle cx="817.29" cy="71.70" r="3.10" fill="#ff0000"/>
<line x1="598.17" y1="167.20" x2="598.17" y2="165.60" stroke="#000" stroke-width="1.05"/>
<line x1="612.78" y1="167.20" x2="612.78" y2="165.60" stroke="#000" stroke-width="1.05"/>
<line x1="627.39" y1="167.20" x2="627.39" y2="165.60" stroke="#000" stroke-width="1.05"/>
<line x1="642.00" y1="167.20" x2="642.00" y2="164.50" stroke="#000" stroke-width="1.05"/>
<line x1="656.61" y1="167.20" x2="656.61" y2="165.60" stroke="#000" stroke-width="1.05"/>
<line x1="671.22" y1="167.20" x2="671.22" y2="165.60" stroke="#000" stroke-width="1.05"/>
<line x1="685.83" y1="167.20" x2="685.83" y2="165.60" stroke="#000" stroke-width="1.05"/>
<line x1="700.44" y1="167.20" x2="700.44" y2="164.50" stroke="#000" stroke-width="1.05"/>
<line x1="715.05" y1="167.20" x2="715.05" y2="165.60" stroke="#000" stroke-width="1.05"/>
<line x1="729.66" y1="167.20" x2="729.66" y2="165.60" stroke="#000" stroke-width="1.05"/>
<line x1="744.27" y1="167.20" x2="744.27" y2="165.60" stroke="#000" stroke-width="1.05"/>
<line x1="758.88" y1="167.20" x2="758.88" y2="164.50" stroke="#000" stroke-width="1.05"/>
<line x1="773.49" y1="167.20" x2="773.49" y2="165.60" stroke="#000" stroke-width="1.05"/>
<line x1="788.10" y1="167.20" x2="788.10" y2="165.60" stroke="#000" stroke-width="1.05"/>
<line x1="802.71" y1="167.20" x2="802.71" y2="165.60" stroke="#000" stroke-width="1.05"/>
<line x1="817.32" y1="167.20" x2="817.32" y2="164.50" stroke="#000" stroke-width="1.05"/>
<text transform="translate(642.00 180.05) scale(0.95 1)" text-anchor="middle" class="tk">20</text>
<text transform="translate(700.44 180.05) scale(0.95 1)" text-anchor="middle" class="tk">40</text>
<text transform="translate(758.88 180.05) scale(0.95 1)" text-anchor="middle" class="tk">60</text>
<text transform="translate(817.32 180.05) scale(0.95 1)" text-anchor="middle" class="tk">80</text>
<path d="M584.95 167.79999999999998L584.95 21.05L823 21.05" fill="none" stroke="#2a2a2a" stroke-width="1.6" stroke-linejoin="miter"/>
<line x1="584.1500000000001" y1="167.2" x2="823" y2="167.2" stroke="#000" stroke-width="1.3"/>
<rect x="821.1" y="20.25" width="2" height="147.59999999999997" fill="#4a4a4a"/>
<text transform="translate(582.75 58.70) scale(0.95 1)" text-anchor="end" class="tk"><tspan dy="1.1">−</tspan><tspan dx="0.55" dy="-1.1">10</tspan><tspan class="ex" dy="-3.2" dx="0.6">−<tspan dx="0.5">8</tspan></tspan></text>
<line x1="584.95" y1="54.50" x2="587.65" y2="54.50" stroke="#000" stroke-width="1.0"/>
<text transform="translate(582.75 93.80) scale(0.95 1)" text-anchor="end" class="tk"><tspan dy="1.1">−</tspan><tspan dx="0.55" dy="-1.1">10</tspan><tspan class="ex" dy="-3.2" dx="0.6">−<tspan dx="0.5">7</tspan></tspan></text>
<line x1="584.95" y1="89.60" x2="587.65" y2="89.60" stroke="#000" stroke-width="1.0"/>
<text transform="translate(582.75 128.90) scale(0.95 1)" text-anchor="end" class="tk"><tspan dy="1.1">−</tspan><tspan dx="0.55" dy="-1.1">10</tspan><tspan class="ex" dy="-3.2" dx="0.6">−<tspan dx="0.5">6</tspan></tspan></text>
<line x1="584.95" y1="124.70" x2="587.65" y2="124.70" stroke="#000" stroke-width="1.0"/>
<text transform="translate(582.75 164.00) scale(0.95 1)" text-anchor="end" class="tk"><tspan dy="1.1">−</tspan><tspan dx="0.55" dy="-1.1">10</tspan><tspan class="ex" dy="-3.2" dx="0.6">−<tspan dx="0.5">5</tspan></tspan></text>
<line x1="584.95" y1="159.80" x2="587.65" y2="159.80" stroke="#000" stroke-width="1.0"/>
<text transform="translate(681.50 33.40) scale(1.02 1)" style="font-size:12px;stroke:#000;stroke-width:0.25px;">(e)</text>
<line x1="773.00" y1="137.30" x2="776.60" y2="137.30" stroke="#000" stroke-width="1.05"/>
<line x1="781.45" y1="137.30" x2="785.05" y2="137.30" stroke="#000" stroke-width="1.05"/>
<line x1="789.90" y1="137.30" x2="793.50" y2="137.30" stroke="#000" stroke-width="1.05"/>
<line x1="772.70" y1="152.00" x2="795.10" y2="152.00" stroke="#000" stroke-width="1.0"/>
<text transform="translate(796.80 142.40) scale(1.05 1)" style="font-size:13.5px;font-style:italic;">J</text>
<text transform="translate(802.90 144.70) scale(1.3 1)" style="font-size:9.2px;font-style:italic;">zx</text>
<text transform="translate(798.00 156.80) scale(1.05 1)" style="font-size:13.5px;font-style:italic;">J</text>
<text transform="translate(804.10 159.10) scale(1.3 1)" style="font-size:9.2px;font-style:italic;">xz</text>
<polyline points="588.50,205.30 597.18,223.00 605.87,229.30 614.55,232.20 623.24,233.30 631.92,233.40 640.61,232.70 649.29,231.50 657.98,229.90 666.66,228.10 675.35,226.10 684.03,224.20 692.72,222.20 701.40,220.50 710.09,218.50 718.77,216.50 727.46,214.70 736.14,212.80 744.83,211.00 753.51,209.20 762.20,207.40 770.88,205.60 779.57,203.90 788.25,202.30 796.94,200.60 805.62,199.10 814.31,197.80" fill="none" stroke="#000000" stroke-width="1.2"/>
<rect x="585.40" y="202.20" width="6.20" height="6.20" fill="#000000"/>
<rect x="594.08" y="219.90" width="6.20" height="6.20" fill="#000000"/>
<rect x="602.77" y="226.20" width="6.20" height="6.20" fill="#000000"/>
<rect x="611.45" y="229.10" width="6.20" height="6.20" fill="#000000"/>
<rect x="620.14" y="230.20" width="6.20" height="6.20" fill="#000000"/>
<rect x="628.82" y="230.30" width="6.20" height="6.20" fill="#000000"/>
<rect x="637.51" y="229.60" width="6.20" height="6.20" fill="#000000"/>
<rect x="646.19" y="228.40" width="6.20" height="6.20" fill="#000000"/>
<rect x="654.88" y="226.80" width="6.20" height="6.20" fill="#000000"/>
<rect x="663.56" y="225.00" width="6.20" height="6.20" fill="#000000"/>
<rect x="672.25" y="223.00" width="6.20" height="6.20" fill="#000000"/>
<rect x="680.93" y="221.10" width="6.20" height="6.20" fill="#000000"/>
<rect x="689.62" y="219.10" width="6.20" height="6.20" fill="#000000"/>
<rect x="698.30" y="217.40" width="6.20" height="6.20" fill="#000000"/>
<rect x="706.99" y="215.40" width="6.20" height="6.20" fill="#000000"/>
<rect x="715.67" y="213.40" width="6.20" height="6.20" fill="#000000"/>
<rect x="724.36" y="211.60" width="6.20" height="6.20" fill="#000000"/>
<rect x="733.04" y="209.70" width="6.20" height="6.20" fill="#000000"/>
<rect x="741.73" y="207.90" width="6.20" height="6.20" fill="#000000"/>
<rect x="750.41" y="206.10" width="6.20" height="6.20" fill="#000000"/>
<rect x="759.10" y="204.30" width="6.20" height="6.20" fill="#000000"/>
<rect x="767.78" y="202.50" width="6.20" height="6.20" fill="#000000"/>
<rect x="776.47" y="200.80" width="6.20" height="6.20" fill="#000000"/>
<rect x="785.15" y="199.20" width="6.20" height="6.20" fill="#000000"/>
<rect x="793.84" y="197.50" width="6.20" height="6.20" fill="#000000"/>
<rect x="802.52" y="196.00" width="6.20" height="6.20" fill="#000000"/>
<rect x="811.21" y="194.70" width="6.20" height="6.20" fill="#000000"/>
<polyline points="588.50,266.10 597.18,282.10 605.87,285.20 614.55,284.60 623.24,282.70 631.92,280.10 640.61,277.20 649.29,274.10 657.98,271.00 666.66,268.10 675.35,265.60 684.03,262.90 692.72,260.50 701.40,258.20 710.09,255.80 718.77,253.70 727.46,251.40 736.14,249.50 744.83,247.50 753.51,245.60 762.20,243.90 770.88,242.30 779.57,240.60 788.25,239.00 796.94,237.30 805.62,235.80 814.31,234.20" fill="none" stroke="#0000ff" stroke-width="1.2"/>
<path d="M584.95 269.30L592.05 269.30L588.50 262.90Z" fill="#0000ff"/>
<path d="M593.63 285.30L600.73 285.30L597.18 278.90Z" fill="#0000ff"/>
<path d="M602.32 288.40L609.42 288.40L605.87 282.00Z" fill="#0000ff"/>
<path d="M611.00 287.80L618.10 287.80L614.55 281.40Z" fill="#0000ff"/>
<path d="M619.69 285.90L626.79 285.90L623.24 279.50Z" fill="#0000ff"/>
<path d="M628.38 283.30L635.47 283.30L631.92 276.90Z" fill="#0000ff"/>
<path d="M637.06 280.40L644.16 280.40L640.61 274.00Z" fill="#0000ff"/>
<path d="M645.75 277.30L652.84 277.30L649.29 270.90Z" fill="#0000ff"/>
<path d="M654.43 274.20L661.53 274.20L657.98 267.80Z" fill="#0000ff"/>
<path d="M663.12 271.30L670.21 271.30L666.66 264.90Z" fill="#0000ff"/>
<path d="M671.80 268.80L678.90 268.80L675.35 262.40Z" fill="#0000ff"/>
<path d="M680.49 266.10L687.58 266.10L684.03 259.70Z" fill="#0000ff"/>
<path d="M689.17 263.70L696.27 263.70L692.72 257.30Z" fill="#0000ff"/>
<path d="M697.86 261.40L704.95 261.40L701.40 255.00Z" fill="#0000ff"/>
<path d="M706.54 259.00L713.64 259.00L710.09 252.60Z" fill="#0000ff"/>
<path d="M715.23 256.90L722.32 256.90L718.77 250.50Z" fill="#0000ff"/>
<path d="M723.91 254.60L731.01 254.60L727.46 248.20Z" fill="#0000ff"/>
<path d="M732.60 252.70L739.69 252.70L736.14 246.30Z" fill="#0000ff"/>
<path d="M741.28 250.70L748.38 250.70L744.83 244.30Z" fill="#0000ff"/>
<path d="M749.97 248.80L757.06 248.80L753.51 242.40Z" fill="#0000ff"/>
<path d="M758.65 247.10L765.75 247.10L762.20 240.70Z" fill="#0000ff"/>
<path d="M767.34 245.50L774.43 245.50L770.88 239.10Z" fill="#0000ff"/>
<path d="M776.02 243.80L783.12 243.80L779.57 237.40Z" fill="#0000ff"/>
<path d="M784.71 242.20L791.80 242.20L788.25 235.80Z" fill="#0000ff"/>
<path d="M793.39 240.50L800.49 240.50L796.94 234.10Z" fill="#0000ff"/>
<path d="M802.08 239.00L809.17 239.00L805.62 232.60Z" fill="#0000ff"/>
<path d="M810.76 237.40L817.86 237.40L814.31 231.00Z" fill="#0000ff"/>
<polyline points="588.50,322.40 597.18,332.90 605.87,331.00 614.55,326.50 623.24,322.30 631.92,317.80 640.61,313.70 649.29,310.30 657.98,307.00 666.66,304.00 675.35,301.30 684.03,298.70 692.72,296.50 701.40,294.00 710.09,291.50 718.77,289.50 727.46,287.40 736.14,285.50 744.83,283.50 753.51,281.90 762.20,279.90 770.88,278.40 779.57,276.80 788.25,275.10 796.94,273.60 805.62,272.10 814.31,270.60" fill="none" stroke="#ff0000" stroke-width="1.2"/>
<circle cx="588.50" cy="322.40" r="3.10" fill="#ff0000"/>
<circle cx="597.18" cy="332.90" r="3.10" fill="#ff0000"/>
<circle cx="605.87" cy="331.00" r="3.10" fill="#ff0000"/>
<circle cx="614.55" cy="326.50" r="3.10" fill="#ff0000"/>
<circle cx="623.24" cy="322.30" r="3.10" fill="#ff0000"/>
<circle cx="631.92" cy="317.80" r="3.10" fill="#ff0000"/>
<circle cx="640.61" cy="313.70" r="3.10" fill="#ff0000"/>
<circle cx="649.29" cy="310.30" r="3.10" fill="#ff0000"/>
<circle cx="657.98" cy="307.00" r="3.10" fill="#ff0000"/>
<circle cx="666.66" cy="304.00" r="3.10" fill="#ff0000"/>
<circle cx="675.35" cy="301.30" r="3.10" fill="#ff0000"/>
<circle cx="684.03" cy="298.70" r="3.10" fill="#ff0000"/>
<circle cx="692.72" cy="296.50" r="3.10" fill="#ff0000"/>
<circle cx="701.40" cy="294.00" r="3.10" fill="#ff0000"/>
<circle cx="710.09" cy="291.50" r="3.10" fill="#ff0000"/>
<circle cx="718.77" cy="289.50" r="3.10" fill="#ff0000"/>
<circle cx="727.46" cy="287.40" r="3.10" fill="#ff0000"/>
<circle cx="736.14" cy="285.50" r="3.10" fill="#ff0000"/>
<circle cx="744.83" cy="283.50" r="3.10" fill="#ff0000"/>
<circle cx="753.51" cy="281.90" r="3.10" fill="#ff0000"/>
<circle cx="762.20" cy="279.90" r="3.10" fill="#ff0000"/>
<circle cx="770.88" cy="278.40" r="3.10" fill="#ff0000"/>
<circle cx="779.57" cy="276.80" r="3.10" fill="#ff0000"/>
<circle cx="788.25" cy="275.10" r="3.10" fill="#ff0000"/>
<circle cx="796.94" cy="273.60" r="3.10" fill="#ff0000"/>
<circle cx="805.62" cy="272.10" r="3.10" fill="#ff0000"/>
<circle cx="814.31" cy="270.60" r="3.10" fill="#ff0000"/>
<line x1="585.60" y1="340.10" x2="585.60" y2="337.40" stroke="#000" stroke-width="1.05"/>
<line x1="600.08" y1="340.10" x2="600.08" y2="338.50" stroke="#000" stroke-width="1.05"/>
<line x1="614.55" y1="340.10" x2="614.55" y2="338.50" stroke="#000" stroke-width="1.05"/>
<line x1="629.02" y1="340.10" x2="629.02" y2="338.50" stroke="#000" stroke-width="1.05"/>
<line x1="643.50" y1="340.10" x2="643.50" y2="337.40" stroke="#000" stroke-width="1.05"/>
<line x1="657.98" y1="340.10" x2="657.98" y2="338.50" stroke="#000" stroke-width="1.05"/>
<line x1="672.45" y1="340.10" x2="672.45" y2="338.50" stroke="#000" stroke-width="1.05"/>
<line x1="686.93" y1="340.10" x2="686.93" y2="338.50" stroke="#000" stroke-width="1.05"/>
<line x1="701.40" y1="340.10" x2="701.40" y2="337.40" stroke="#000" stroke-width="1.05"/>
<line x1="715.88" y1="340.10" x2="715.88" y2="338.50" stroke="#000" stroke-width="1.05"/>
<line x1="730.35" y1="340.10" x2="730.35" y2="338.50" stroke="#000" stroke-width="1.05"/>
<line x1="744.83" y1="340.10" x2="744.83" y2="338.50" stroke="#000" stroke-width="1.05"/>
<line x1="759.30" y1="340.10" x2="759.30" y2="337.40" stroke="#000" stroke-width="1.05"/>
<line x1="773.78" y1="340.10" x2="773.78" y2="338.50" stroke="#000" stroke-width="1.05"/>
<line x1="788.25" y1="340.10" x2="788.25" y2="338.50" stroke="#000" stroke-width="1.05"/>
<line x1="802.73" y1="340.10" x2="802.73" y2="338.50" stroke="#000" stroke-width="1.05"/>
<line x1="817.20" y1="340.10" x2="817.20" y2="337.40" stroke="#000" stroke-width="1.05"/>
<text transform="translate(585.60 353.65) scale(0.95 1)" text-anchor="middle" class="tk">0</text>
<text transform="translate(643.50 353.65) scale(0.95 1)" text-anchor="middle" class="tk">20</text>
<text transform="translate(701.40 353.65) scale(0.95 1)" text-anchor="middle" class="tk">40</text>
<text transform="translate(759.30 353.65) scale(0.95 1)" text-anchor="middle" class="tk">60</text>
<text transform="translate(817.20 353.65) scale(0.95 1)" text-anchor="middle" class="tk">80</text>
<rect x="583.95" y="194.95" width="235.00" height="145.15" fill="none" stroke="#2a2a2a" stroke-width="1.5"/>
<text transform="translate(581.75 211.50) scale(0.95 1)" text-anchor="end" class="tk"><tspan dy="1.1">−</tspan><tspan dx="0.55" dy="-1.1">10</tspan><tspan class="ex" dy="-3.2" dx="0.6">−<tspan dx="0.5">10</tspan></tspan></text>
<line x1="583.95" y1="207.50" x2="586.65" y2="207.50" stroke="#000" stroke-width="1.0"/>
<text transform="translate(581.75 241.90) scale(0.95 1)" text-anchor="end" class="tk"><tspan dy="1.1">−</tspan><tspan dx="0.55" dy="-1.1">10</tspan><tspan class="ex" dy="-3.2" dx="0.6">−<tspan dx="0.5">9</tspan></tspan></text>
<line x1="583.95" y1="237.75" x2="586.65" y2="237.75" stroke="#000" stroke-width="1.0"/>
<text transform="translate(581.75 272.50) scale(0.95 1)" text-anchor="end" class="tk"><tspan dy="1.1">−</tspan><tspan dx="0.55" dy="-1.1">10</tspan><tspan class="ex" dy="-3.2" dx="0.6">−<tspan dx="0.5">8</tspan></tspan></text>
<line x1="583.95" y1="268.00" x2="586.65" y2="268.00" stroke="#000" stroke-width="1.0"/>
<text transform="translate(581.75 302.75) scale(0.95 1)" text-anchor="end" class="tk"><tspan dy="1.1">−</tspan><tspan dx="0.55" dy="-1.1">10</tspan><tspan class="ex" dy="-3.2" dx="0.6">−<tspan dx="0.5">7</tspan></tspan></text>
<line x1="583.95" y1="298.30" x2="586.65" y2="298.30" stroke="#000" stroke-width="1.0"/>
<text transform="translate(581.75 333.40) scale(0.95 1)" text-anchor="end" class="tk"><tspan dy="1.1">−</tspan><tspan dx="0.55" dy="-1.1">10</tspan><tspan class="ex" dy="-3.2" dx="0.6">−<tspan dx="0.5">6</tspan></tspan></text>
<line x1="583.95" y1="328.40" x2="586.65" y2="328.40" stroke="#000" stroke-width="1.0"/>
<text transform="translate(680.70 207.60) scale(1.0 1)" style="font-size:12px;stroke:#000;stroke-width:0.25px;">(f)</text>
<line x1="768.60" y1="310.80" x2="772.20" y2="310.80" stroke="#000" stroke-width="1.05"/>
<line x1="777.05" y1="310.80" x2="780.65" y2="310.80" stroke="#000" stroke-width="1.05"/>
<line x1="785.50" y1="310.80" x2="789.10" y2="310.80" stroke="#000" stroke-width="1.05"/>
<line x1="768.20" y1="325.20" x2="790.40" y2="325.20" stroke="#000" stroke-width="1.0"/>
<text transform="translate(792.10 315.80) scale(1.05 1)" style="font-size:13.5px;font-style:italic;">J</text>
<text transform="translate(798.20 318.10) scale(1.3 1)" style="font-size:9.2px;font-style:italic;">zx</text>
<text transform="translate(793.20 330.10) scale(1.05 1)" style="font-size:13.5px;font-style:italic;">J</text>
<text transform="translate(799.30 332.40) scale(1.3 1)" style="font-size:9.2px;font-style:italic;">xz</text>
<text transform="translate(672.80 363.00) scale(1.15 1)" style="font-size:15px;font-style:italic;">R</text>
<text transform="translate(684.00 366.20) scale(0.7 1)" style="font-size:22px;font-style:italic;">/</text>
<text transform="translate(689.70 363.00) scale(1.0 1)" style="font-size:15px;font-style:italic;">a</text>
<circle cx="314.50" cy="4.40" r="2.70" fill="#ff0000"/>
<text transform="translate(323.10 8.70) scale(1.08 1)" style="font-size:14.0px;font-style:italic;">N</text>
<text transform="translate(333.40 11.70) scale(1.3 1)" style="font-size:9.0px;font-style:italic;">z</text>
<text transform="translate(342.30 9.90) scale(1.45 1)" style="font-size:12.2px;">=</text>
<text transform="translate(355.70 9.00) scale(0.97 1)" style="font-size:12.8px;">9</text>
<path d="M393.99 6.92L399.81 6.92L396.90 1.68Z" fill="#0000ff"/>
<text transform="translate(404.20 8.70) scale(1.08 1)" style="font-size:14.0px;font-style:italic;">N</text>
<text transform="translate(414.50 11.70) scale(1.3 1)" style="font-size:9.0px;font-style:italic;">z</text>
<text transform="translate(423.40 9.90) scale(1.45 1)" style="font-size:12.2px;">=</text>
<text transform="translate(436.80 9.00) scale(0.97 1)" style="font-size:12.8px;">17</text>
<rect x="483.78" y="2.48" width="4.84" height="4.84" fill="#000000"/>
<text transform="translate(492.80 8.70) scale(1.08 1)" style="font-size:14.0px;font-style:italic;">N</text>
<text transform="translate(503.10 11.70) scale(1.3 1)" style="font-size:9.0px;font-style:italic;">z</text>
<text transform="translate(512.00 9.90) scale(1.45 1)" style="font-size:12.2px;">=</text>
<text transform="translate(525.40 9.00) scale(0.97 1)" style="font-size:12.8px;">33</text>
</svg>
</body></html>
